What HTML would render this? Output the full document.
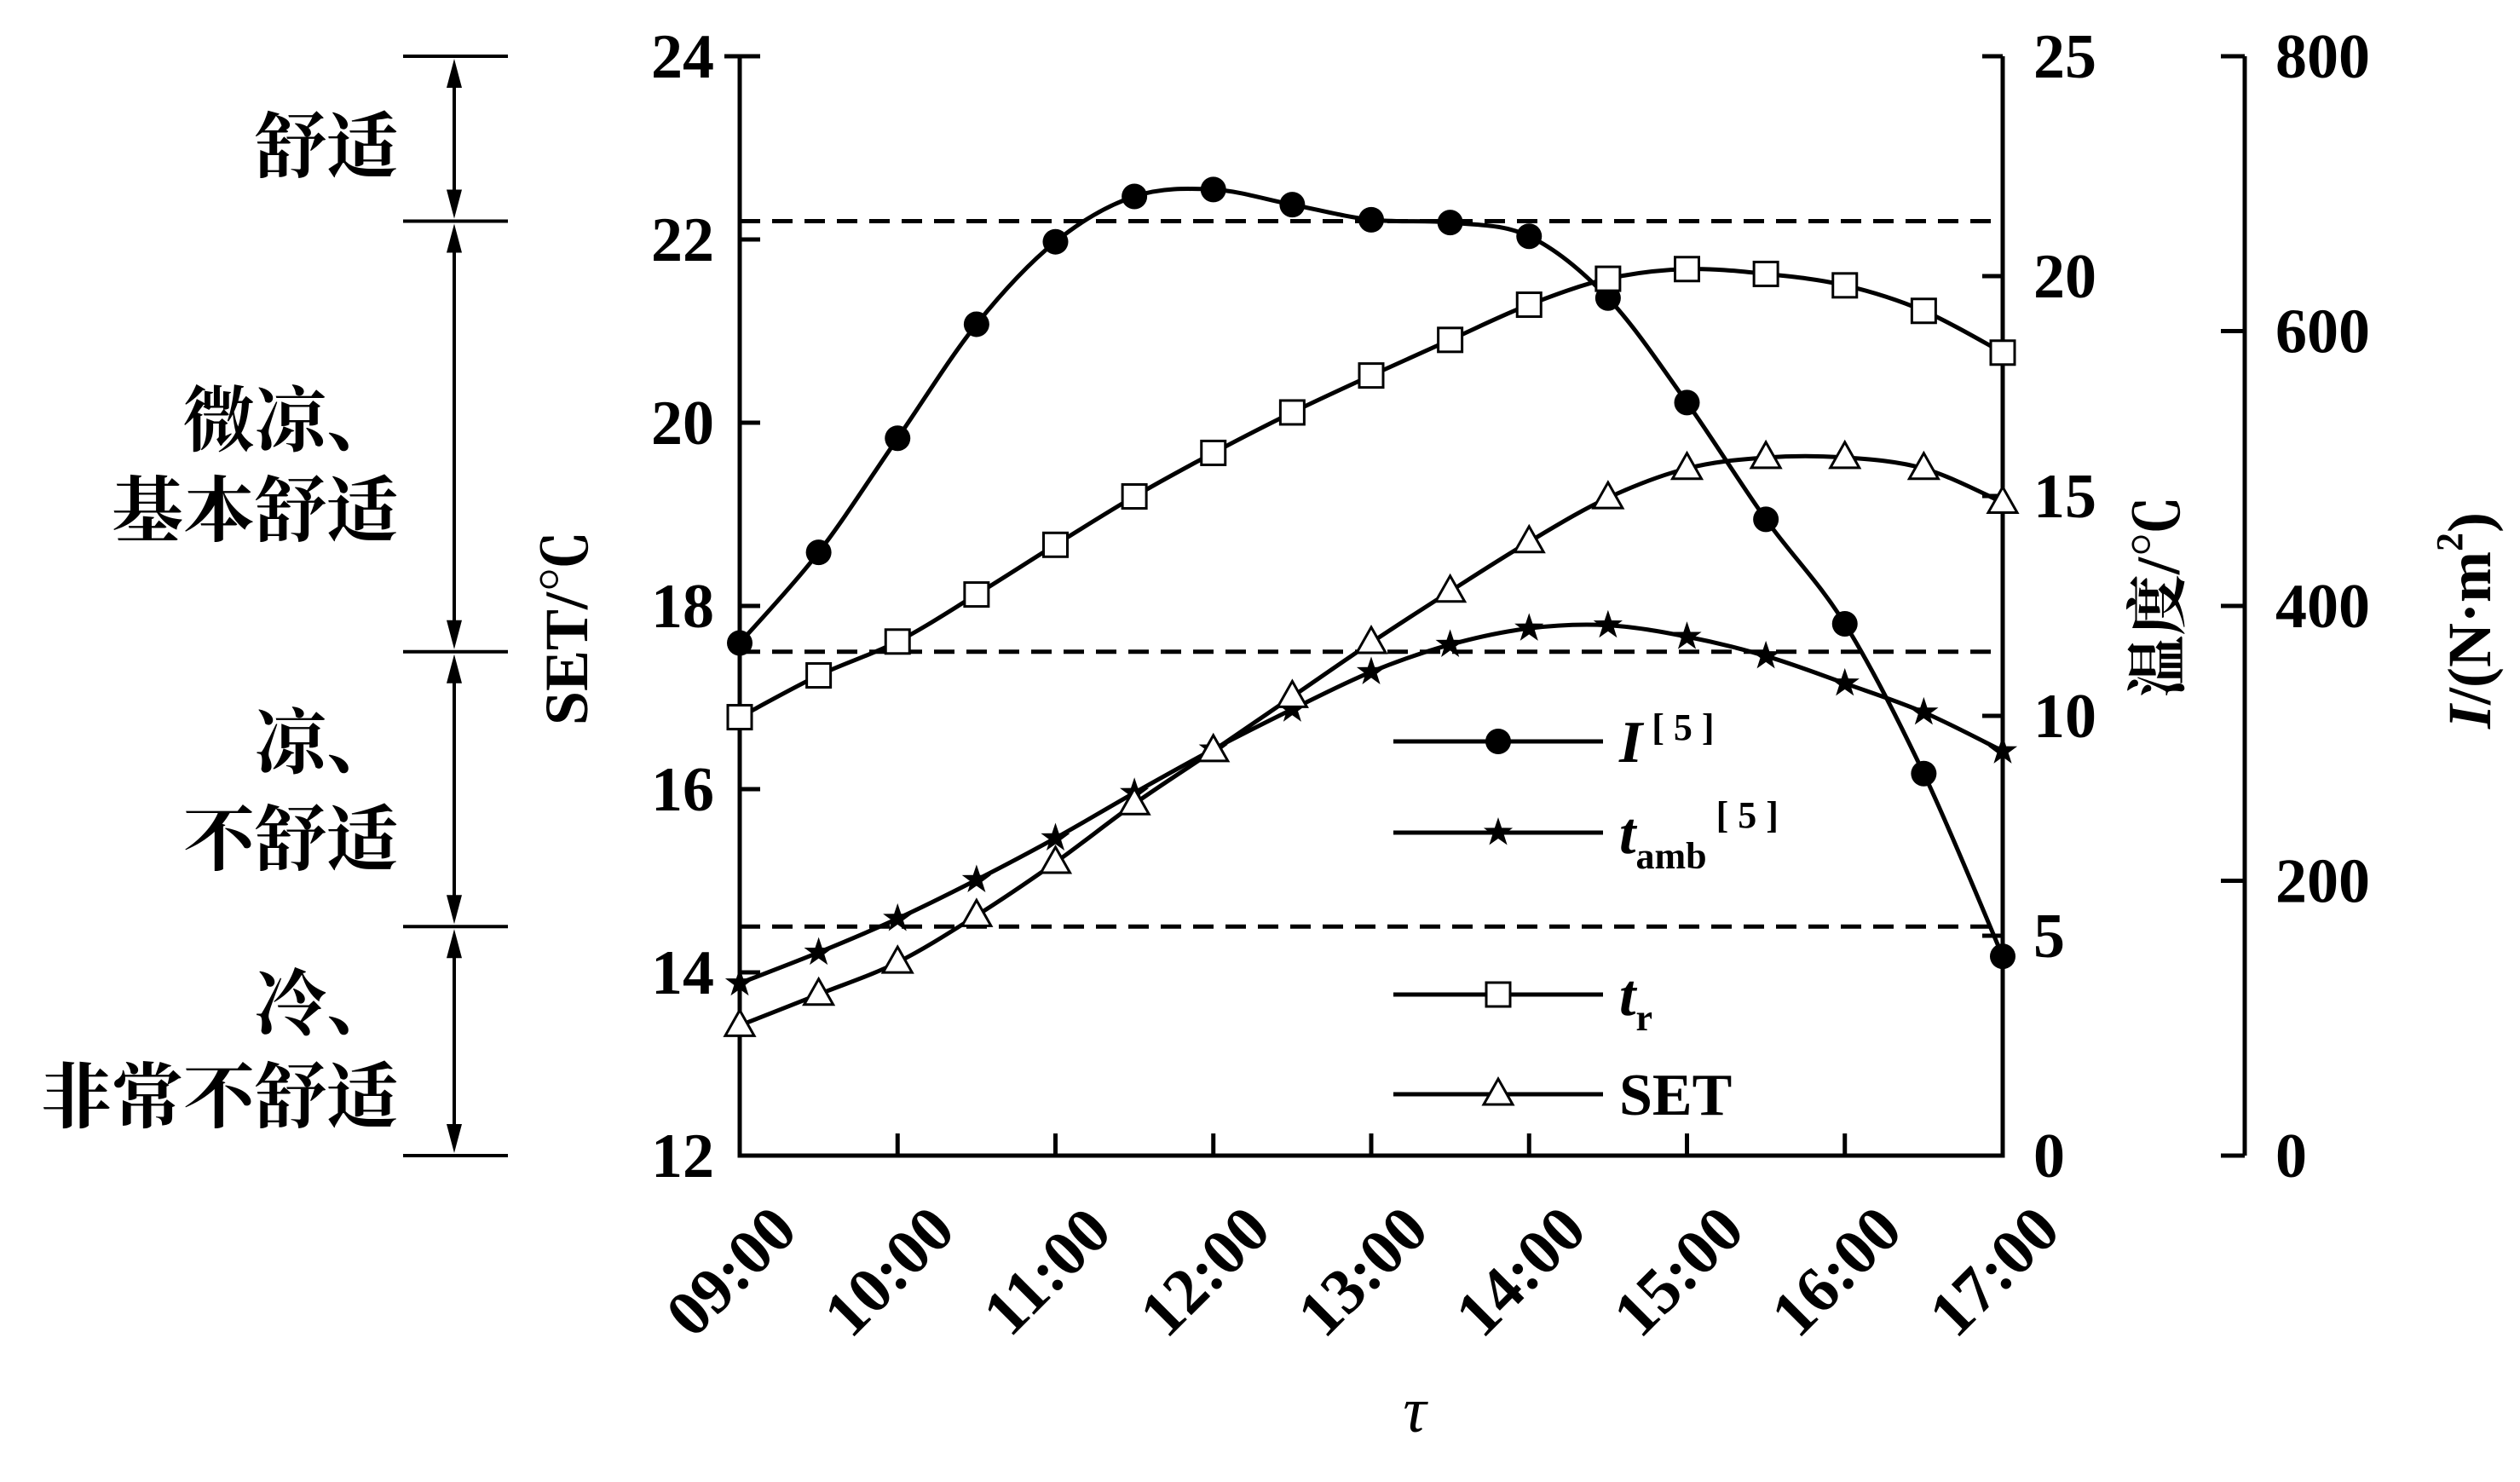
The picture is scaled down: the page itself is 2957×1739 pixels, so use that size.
<!DOCTYPE html>
<html><head><meta charset="utf-8"><style>
html,body{margin:0;padding:0;background:#fff;}
svg{display:block;}
text{font-family:"Liberation Serif","Noto Serif CJK SC",serif;fill:#000;}
</style></head><body>
<svg id="chart" width="2957" height="1739" viewBox="0 0 2957 1739" xmlns="http://www.w3.org/2000/svg"></svg>
<script>
// ---- data ----
const times = ["09:00","09:30","10:00","10:30","11:00","11:30","12:00","12:30","13:00","13:30","14:00","14:30","15:00","15:30","16:00","16:30","17:00"];
const hourLabels = ["09:00","10:00","11:00","12:00","13:00","14:00","15:00","16:00","17:00"];
const irradiance = [373,439,522,605,665,698,703,692,681,679,669,624,548,463,387,278,145];
const tAmb = [3.92,4.62,5.39,6.27,7.22,8.25,9.24,10.15,11.0,11.62,11.99,12.06,11.8,11.36,10.74,10.08,9.2];
const tR = [9.97,10.92,11.69,12.76,13.89,14.99,15.98,16.9,17.74,18.55,19.35,19.94,20.16,20.05,19.79,19.21,18.26];
const setVals = [13.42,13.76,14.11,14.62,15.2,15.84,16.42,17.01,17.6,18.16,18.7,19.18,19.5,19.62,19.62,19.5,19.13];
const setTicks = [12,14,16,18,20,22,24];
const tempTicks = [0,5,10,15,20,25];
const iTicks = [0,200,400,600,800];
const comfortLevels = [22.2,17.5,14.5];

// ---- layout ----
const X0=868, X1=2350, XI=2634, YT=66, YB=1356;
const svg=document.getElementById('chart');
const NS='http://www.w3.org/2000/svg';
const xAt=i=>X0+(X1-X0)*i/(times.length-1);
const ySet=v=>YB-(v-12)/12*(YB-YT);
const yTemp=v=>YB-v/25*(YB-YT);
const yI=v=>YB-v/800*(YB-YT);
function mk(tag,attrs,parent){const e=document.createElementNS(NS,tag);for(const k in attrs)e.setAttribute(k,attrs[k]);(parent||svg).appendChild(e);return e;}
function txt(s,attrs,parent){const e=mk('text',attrs,parent);e.textContent=s;return e;}

// axes
const ax=mk('g',{stroke:'#000','stroke-width':5,fill:'none'});


mk('path',{d:`M${X0},${YT}V${YB}H${X1}V${YT}`},ax);
mk('path',{d:`M${X0},${YT}h-18`},ax);
mk('path',{d:`M${X1},${YT}h-18`},ax);
mk('path',{d:`M${XI},${YT}V${YB}`},ax);
setTicks.forEach(v=>{mk('path',{d:`M${X0},${ySet(v)}h24`},ax);});
tempTicks.forEach(v=>{mk('path',{d:`M${X1},${yTemp(v)}h-24`},ax);});
iTicks.forEach(v=>{mk('path',{d:`M${XI},${yI(v)}h-28`},ax);});
hourLabels.forEach((h,k)=>{const x=X0+(X1-X0)*k/8;mk('path',{d:`M${x},${YB}v-26`},ax);});

// tick labels
setTicks.forEach(v=>{const t=txt(String(v),{x:838,y:ySet(v)+25,'text-anchor':'end','font-size':74,'font-weight':'bold'});

});
tempTicks.forEach(v=>{const t=txt(String(v),{x:2386,y:yTemp(v)+25,'font-size':74,'font-weight':'bold'});

});
iTicks.forEach(v=>{const t=txt(String(v),{x:2670,y:yI(v)+25,'font-size':74,'font-weight':'bold'});

});
hourLabels.forEach((h,k)=>{const x=X0+(X1-X0)*k/8-10;
const t=txt(h,{x:x,y:1492,'text-anchor':'middle','font-size':76,'font-weight':'bold',transform:`rotate(-45 ${x} 1492)`,'dominant-baseline':'central'});

});

// axis titles
let t;
t=txt('τ',{x:1660,y:1680,'text-anchor':'middle','font-size':76,'font-style':'italic'});

t=txt('SET/℃',{x:665,y:737,'text-anchor':'middle','dominant-baseline':'central','font-size':72,'font-weight':'bold',transform:'rotate(-90 665 737)'});

t=txt('温度/℃',{x:2533,y:700,'text-anchor':'middle','dominant-baseline':'central','font-size':72,'font-weight':'bold',transform:'rotate(-90 2533 700)'});

t=mk('text',{x:2898,y:728,'text-anchor':'middle','dominant-baseline':'central','font-size':72,'font-weight':'bold',transform:'rotate(-90 2898 728)'});
t.innerHTML='<tspan font-style="italic">I</tspan>/(N·m<tspan dy="-24" font-size="44">2</tspan><tspan dy="24">)</tspan>';


// dashed comfort lines
comfortLevels.forEach(v=>{const l=mk('line',{x1:X0,x2:X1,y1:ySet(v),y2:ySet(v),stroke:'#000','stroke-width':5,'stroke-dasharray':'24 14'});

});

// comfort bracket
const bx=533;
const bounds=[24,22.2,17.5,14.5,12];
const br=mk('g',{stroke:'#000','stroke-width':4});


bounds.forEach(v=>mk('line',{x1:473,x2:596,y1:ySet(v),y2:ySet(v)},br));
for(let i=0;i<4;i++){const a=ySet(bounds[i])+3,b=ySet(bounds[i+1])-3;
mk('line',{x1:bx,x2:bx,y1:a+28,y2:b-28},br);
mk('path',{d:`M${bx},${a}l-9,34h18z`,fill:'#000',stroke:'none'},br);
mk('path',{d:`M${bx},${b}l-9,-34h18z`,fill:'#000',stroke:'none'},br);}
const zones=[[['舒适',174]],[['微凉、',495],['基本舒适',601]],[['凉、',873],['不舒适',987]],[['冷、',1180],['非常不舒适',1289]]];
zones.forEach(z=>z.forEach(([s,y])=>{const e=txt(s,{x:467,y:y,'text-anchor':'end','dominant-baseline':'central','font-size':84,'font-weight':'bold','font-family':'"Noto Serif CJK SC",serif'});
}));

// smooth path
function smooth(pts){let d=`M${pts[0][0]},${pts[0][1]}`;for(let i=0;i<pts.length-1;i++){const p0=pts[i-1]||pts[i],p1=pts[i],p2=pts[i+1],p3=pts[i+2]||p2;
d+=`C${p1[0]+(p2[0]-p0[0])/6},${p1[1]+(p2[1]-p0[1])/6} ${p2[0]-(p3[0]-p1[0])/6},${p2[1]-(p3[1]-p1[1])/6} ${p2[0]},${p2[1]}`;}return d;}
function marker(g,type,x,y){
 if(type==='circle')mk('circle',{cx:x,cy:y,r:15,fill:'#000'},g);
 else if(type==='square')mk('rect',{x:x-14,y:y-14,width:28,height:28,fill:'#fff',stroke:'#000','stroke-width':3},g);
 else if(type==='triangle')mk('path',{d:`M${x},${y-18}L${x+17},${y+12}L${x-17},${y+12}Z`,fill:'#fff',stroke:'#000','stroke-width':3},g);
 else {let d='';for(let k=0;k<10;k++){const r=k%2?7:18,a=-Math.PI/2+k*Math.PI/5;d+=(k?'L':'M')+(x+r*Math.cos(a))+','+(y+r*Math.sin(a));}mk('path',{d:d+'Z',fill:'#000'},g);}
}
const series=[['series-irradiance',irradiance,yI,'circle'],['series-t-amb',tAmb,yTemp,'star'],['series-t-r',tR,yTemp,'square'],['series-set',setVals,ySet,'triangle']];
series.forEach(([name,vals,yf,m])=>{const g=mk('g',{});

const pts=vals.map((v,i)=>[xAt(i),yf(v)]);
mk('path',{d:smooth(pts),fill:'none',stroke:'#000','stroke-width':5},g);
pts.forEach(p=>marker(g,m,p[0],p[1]));});

// legend
const lg=mk('g',{});

const legY=[870,977,1167,1284],legM=['circle','star','square','triangle'];
const legHTML=['<tspan font-style="italic">I</tspan><tspan font-size="44" dy="-26"> [ 5 ]</tspan>',
'<tspan font-style="italic">t</tspan><tspan font-size="44" dy="18">amb</tspan><tspan font-size="44" dy="-48"> [ 5 ]</tspan>',
'<tspan font-style="italic">t</tspan><tspan font-size="44" dy="18">r</tspan>','SET'];
legY.forEach((y,i)=>{const e=mk('g',{},lg);

mk('line',{x1:1635,x2:1881,y1:y,y2:y,stroke:'#000','stroke-width':5},e);
marker(e,legM[i],1758,y);
const tx=mk('text',{x:1900,y:y+24,'font-size':70,'font-weight':'bold'},e);tx.innerHTML=legHTML[i];});
</script>
</body></html>
